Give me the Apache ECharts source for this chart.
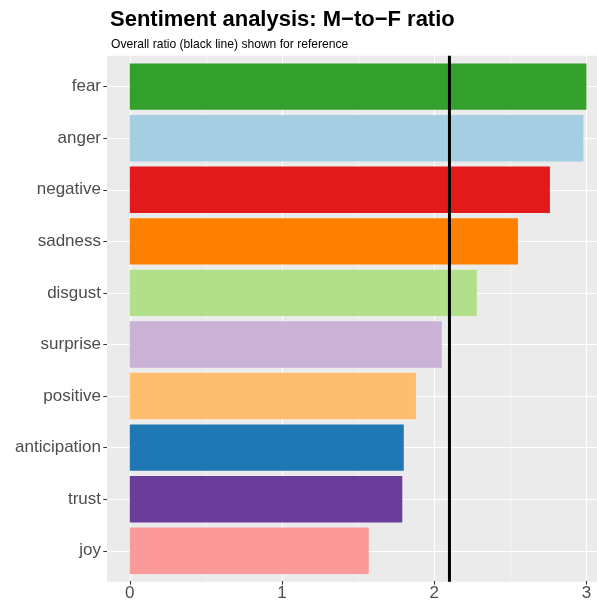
<!DOCTYPE html>
<html>
<head>
<meta charset="utf-8">
<script src="https://cdn.jsdelivr.net/npm/echarts@6/dist/echarts.min.js"></script>
<style>
html,body{margin:0;padding:0;background:#fff;overflow:hidden;width:597px;height:602px;}
#chart{width:780px;height:602px;}
</style>
</head>
<body>
<div id="chart"></div>
<script>
// ---- data ----
const categories = ['fear', 'anger', 'negative', 'sadness', 'disgust', 'surprise', 'positive', 'anticipation', 'trust', 'joy'];
const ratios = [3.00, 2.98, 2.76, 2.55, 2.28, 2.05, 1.88, 1.80, 1.79, 1.57];
const barColors = ['#33A02C', '#A6CEE3', '#E31A1C', '#FF7F00', '#B2DF8A', '#CAB2D6', '#FDBF6F', '#1F78B4', '#6A3D9A', '#FB9A99'];
const overallRatio = 2.10;
const titleText = 'Sentiment analysis: M\u2212to\u2212F ratio';
const subtitleText = 'Overall ratio (black line) shown for reference';

// ---- layout ----
const FONT = '"Liberation Sans", Arial, Helvetica, sans-serif';
const panelLeft = 107, panelTop = 55.7, panelBottom = 581.7;
const unit = 152.2;                 // px per x unit
const xMin = -0.15, xMax = 3.15;
const zeroX = panelLeft - xMin * unit;
const panelH = panelBottom - panelTop;
const band = panelH / (categories.length - 1 + 1.2);

const chart = echarts.init(document.getElementById('chart'), null, {renderer: 'canvas'});
const option = {
  animation: false,
  backgroundColor: '#FFFFFF',
  title: [
    {text: titleText, left: 105, top: 4,
     textStyle: {fontFamily: FONT, fontSize: 22, fontWeight: 'bold', color: '#000'}},
    {text: subtitleText, left: 106, top: 34,
     textStyle: {fontFamily: FONT, fontSize: 12.1, fontWeight: 'normal', color: '#000'}}
  ],
  grid: [
    // 0: panel background + reference line
    {left: panelLeft, top: panelTop, width: (xMax - xMin) * unit, height: panelH,
     show: true, backgroundColor: '#EBEBEB', borderWidth: 0, containLabel: false},
    // 1: vertical grid lines + x axis labels
    {left: zeroX, top: panelTop, width: 4 * unit, height: panelH, containLabel: false},
    // 2: bars + category axis
    {left: panelLeft, top: panelTop + 0.6 * band, width: (xMax - xMin) * unit,
     height: (categories.length - 1) * band, containLabel: false}
  ],
  xAxis: [
    {gridIndex: 0, type: 'value', min: xMin, max: xMax, show: false},
    {gridIndex: 1, type: 'value', min: 0, max: 4, interval: 1,
     axisLine: {show: false, onZero: false},
     axisTick: {show: true, length: 3.7, lineStyle: {color: '#333333', width: 1.07}},
     axisLabel: {show: true, margin: 4, fontFamily: FONT, fontSize: 17, color: '#4D4D4D'},
     splitLine: {show: true, lineStyle: {color: '#FFFFFF', width: 1.07}},
     minorTick: {show: false, splitNumber: 2},
     minorSplitLine: {show: true, lineStyle: {color: '#FFFFFF', width: 0.53}}},
    {gridIndex: 2, type: 'value', min: xMin, max: xMax, show: false}
  ],
  yAxis: [
    {gridIndex: 0, type: 'value', min: 0, max: 1, show: false},
    {gridIndex: 1, type: 'value', min: 0, max: 1, show: false},
    {gridIndex: 2, type: 'category', data: categories, inverse: true, boundaryGap: false,
     axisLine: {show: false, onZero: false},
     axisTick: {show: true, length: 3.7, lineStyle: {color: '#333333', width: 1.07}},
     axisLabel: {show: true, margin: 6, fontFamily: FONT, fontSize: 17, color: '#4D4D4D'},
     splitLine: {show: true, lineStyle: {color: '#FFFFFF', width: 1.07}}}
  ],
  series: [
    {type: 'bar', xAxisIndex: 2, yAxisIndex: 2, barWidth: 0.9 * band, clip: false,
     data: ratios.map((v, i) => ({value: v, itemStyle: {color: barColors[i]}})),
     z: 3},
    {type: 'line', xAxisIndex: 0, yAxisIndex: 0, symbol: 'none', clip: false,
     data: [[overallRatio, 0], [overallRatio, 1]],
     lineStyle: {color: '#000000', width: 3}, z: 10}
  ]
};
chart.setOption(option);
</script>
</body>
</html>
